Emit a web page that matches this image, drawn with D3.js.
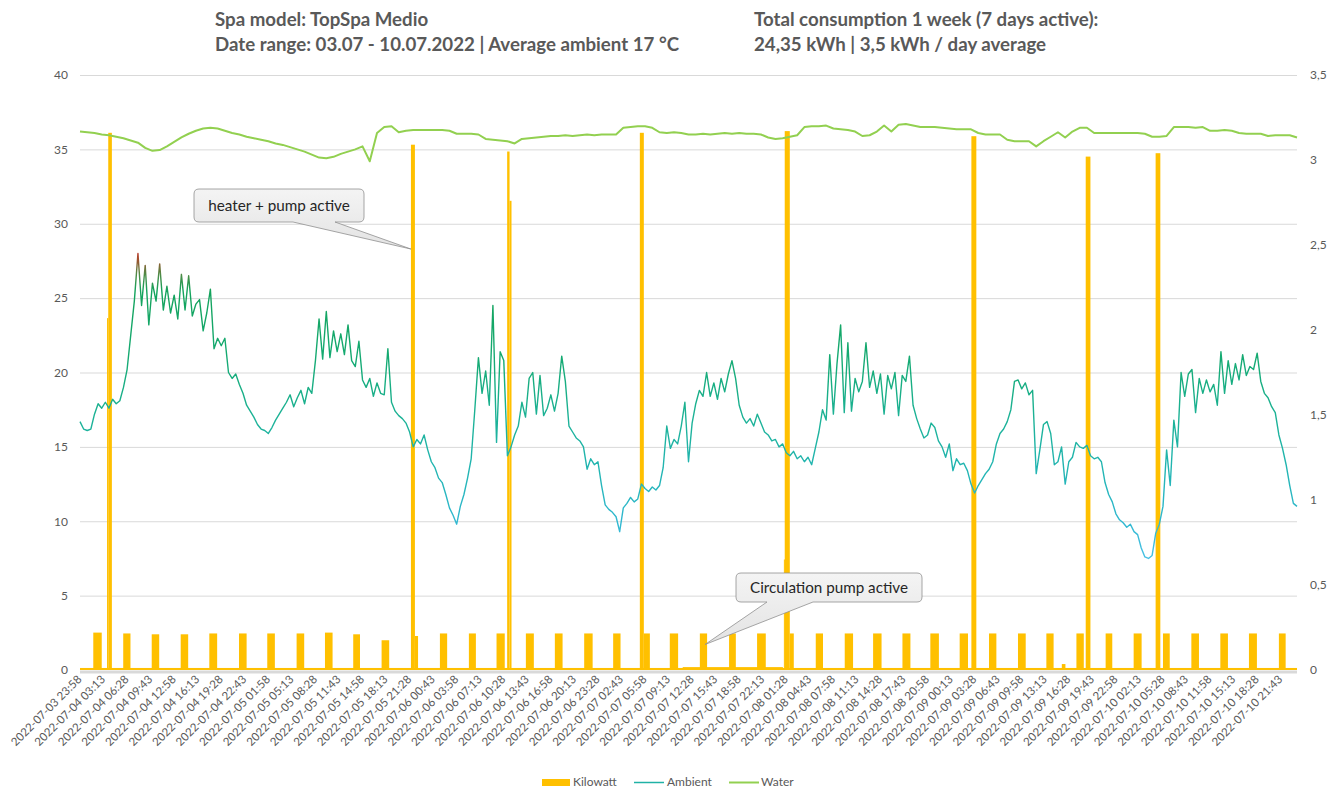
<!DOCTYPE html>
<html><head><meta charset="utf-8">
<script src="https://cdn.jsdelivr.net/npm/d3@7"></script>
<style>
body{margin:0;background:#fff;}
svg{display:block;font-family:Lato,'Open Sans',sans-serif;}
</style></head><body>
<svg id="chart" width="1329" height="789"></svg>
<script>
// ---------------- DATA ----------------
const titleLeft = ["Spa model: TopSpa Medio", "Date range: 03.07 - 10.07.2022 | Average ambient 17 °C"];
const titleRight = ["Total consumption 1 week (7 days active):", "24,35 kWh | 3,5 kWh / day average"];
const startTime = "2022-07-03 23:58";
const endTime = "2022-07-10 23:58";
const tickLabels = [
"2022-07-03 23:58",
"2022-07-04 03:13","2022-07-04 06:28","2022-07-04 09:43","2022-07-04 12:58","2022-07-04 16:13","2022-07-04 19:28","2022-07-04 22:43",
"2022-07-05 01:58","2022-07-05 05:13","2022-07-05 08:28","2022-07-05 11:43","2022-07-05 14:58","2022-07-05 18:13","2022-07-05 21:28",
"2022-07-06 00:43","2022-07-06 03:58","2022-07-06 07:13","2022-07-06 10:28","2022-07-06 13:43","2022-07-06 16:58","2022-07-06 20:13","2022-07-06 23:28",
"2022-07-07 02:43","2022-07-07 05:58","2022-07-07 09:13","2022-07-07 12:28","2022-07-07 15:43","2022-07-07 18:58","2022-07-07 22:13",
"2022-07-08 01:28","2022-07-08 04:43","2022-07-08 07:58","2022-07-08 11:13","2022-07-08 14:28","2022-07-08 17:43","2022-07-08 20:58",
"2022-07-09 00:13","2022-07-09 03:28","2022-07-09 06:43","2022-07-09 09:58","2022-07-09 13:13","2022-07-09 16:28","2022-07-09 19:43","2022-07-09 22:58",
"2022-07-10 02:13","2022-07-10 05:28","2022-07-10 08:43","2022-07-10 11:58","2022-07-10 15:13","2022-07-10 18:28","2022-07-10 21:43"
];
const leftTicks = [0,5,10,15,20,25,30,35,40];
const rightTicks = [0,0.5,1,1.5,2,2.5,3,3.5];

// Ambient temperature (°C), one reading every 30 min from startTime
const ambientStepMin = 30;
const ambient = [
16.7,16.2,16.1,16.2,17.2,17.9,17.6,18.0,17.6,18.2,17.9,18.1,
19.0,20.2,22.5,24.8,28.0,24.5,27.2,23.2,26.0,24.8,27.3,24.2,
25.8,24.0,25.2,23.6,26.6,24.2,26.5,23.8,24.6,24.9,22.8,24.0,
25.6,21.6,22.3,21.8,22.3,20.0,19.6,19.9,19.2,18.6,17.8,17.4,
17.0,16.5,16.2,16.1,15.9,16.3,16.8,17.2,17.6,18.0,18.5,17.7,
18.3,18.8,17.9,19.0,18.6,20.8,23.6,20.9,24.1,21.0,22.8,21.4,
22.6,21.2,23.2,20.8,20.4,22.1,19.5,19.0,19.6,18.4,19.3,18.6,
18.5,21.6,18.0,17.4,17.1,16.9,16.6,16.0,15.0,15.5,15.2,15.8,
14.8,14.0,13.6,12.9,12.6,11.8,10.9,10.4,9.8,11.0,11.8,12.9,
14.2,17.5,21.0,18.6,20.1,17.8,24.5,15.3,21.4,20.8,14.4,15.0,
15.8,16.4,18.0,17.0,19.6,20.0,17.2,19.8,17.1,17.6,18.5,17.4,
18.6,21.1,19.4,16.4,16.0,15.6,15.4,15.0,13.5,14.2,13.8,14.0,
12.4,11.1,10.8,10.6,10.3,9.3,10.9,11.2,11.6,11.3,11.5,12.5,
12.2,12.0,12.3,12.1,12.4,13.6,16.4,14.9,15.5,15.2,16.4,18.0,
14.0,16.6,17.9,18.8,18.4,20.0,18.4,19.3,18.2,19.6,18.7,19.9,
20.8,19.6,17.8,17.0,16.6,16.9,16.4,17.2,16.6,16.0,15.8,15.4,
15.5,15.0,15.2,14.6,14.4,14.7,14.2,14.4,14.0,14.3,13.8,14.9,
16.0,17.5,16.8,21.2,17.2,20.6,23.2,17.3,22.0,17.4,19.6,18.7,
19.4,22.0,19.0,20.1,18.6,19.9,17.2,19.8,18.9,20.0,17.1,19.8,
19.4,21.1,17.8,16.9,16.2,15.6,15.8,16.6,16.3,15.4,15.0,14.3,
15.2,13.4,14.2,13.8,13.9,13.4,12.5,11.9,12.4,12.8,13.2,13.5,
14.0,15.2,15.9,16.2,16.7,17.5,19.4,19.5,18.9,19.3,18.5,18.8,
13.2,14.8,16.5,16.7,15.9,13.8,14.0,15.0,12.5,14.0,14.3,15.3,
15.0,14.9,15.1,14.4,14.2,14.3,14.0,12.6,11.8,11.3,10.5,10.1,
9.9,9.6,9.8,9.3,9.1,8.2,7.6,7.5,7.7,9.2,9.8,11.0,
14.8,12.4,16.8,15.0,20.0,18.4,19.9,20.2,17.3,19.6,18.6,19.5,
18.7,19.2,17.8,21.4,18.6,20.8,19.2,20.6,19.5,21.2,19.8,20.4,
20.2,21.3,19.4,18.6,18.3,17.7,17.3,15.8,14.9,13.8,12.4,11.2,11.0
];

// Water temperature (°C), one reading every 60 min from startTime
const waterStepMin = 60;
const water = [
36.2,36.15,36.1,36.0,35.95,35.85,35.75,35.6,35.45,35.1,34.9,34.95,
35.2,35.5,35.8,36.05,36.25,36.4,36.45,36.4,36.25,36.1,36.0,35.85,
35.75,35.65,35.55,35.4,35.3,35.15,35.0,34.85,34.65,34.45,34.4,34.5,
34.7,34.85,35.0,35.2,34.2,36.1,36.5,36.55,36.15,36.25,36.3,36.3,
36.3,36.3,36.3,36.25,36.05,36.05,36.05,36.0,35.7,35.65,35.6,35.55,
35.4,35.7,35.75,35.8,35.85,35.9,35.9,35.95,35.9,35.95,36.0,35.95,
36.0,36.0,36.0,36.45,36.5,36.55,36.55,36.45,36.15,36.1,36.15,36.1,
36.0,36.0,36.05,36.0,36.05,36.1,36.05,36.1,36.05,36.05,36.0,35.8,
35.7,35.75,35.85,35.95,36.5,36.55,36.55,36.6,36.4,36.35,36.3,36.2,
35.9,35.95,36.2,36.6,36.2,36.65,36.7,36.6,36.5,36.5,36.5,36.45,
36.4,36.35,36.35,36.35,36.1,36.0,36.0,36.0,35.65,35.55,35.55,35.55,
35.2,35.55,35.85,36.15,35.8,36.2,36.45,36.45,36.1,36.1,36.1,36.1,
36.1,36.1,36.1,36.05,35.85,35.85,35.9,36.5,36.5,36.5,36.45,36.5,
36.25,36.25,36.3,36.25,36.1,36.05,36.05,36.05,35.9,35.95,35.95,35.95,35.8
];

// Kilowatt: [start, duration (min), kW]
const standbyRuns = [
["2022-07-03 23:58",10080,0.012],
["2022-07-07 11:10",830,0.017],
["2022-07-09 15:30",30,0.035]
];
const pumpRuns = [
["2022-07-04 01:48",70,0.22],["2022-07-04 05:56",60,0.215],["2022-07-04 09:52",62,0.21],["2022-07-04 13:52",62,0.21],
["2022-07-04 17:49",65,0.215],["2022-07-04 21:55",63,0.215],["2022-07-05 01:49",63,0.215],["2022-07-05 05:52",63,0.215],
["2022-07-05 09:47",63,0.22],["2022-07-05 13:41",56,0.21],["2022-07-05 17:36",63,0.175],["2022-07-05 22:12",26,0.2],
["2022-07-06 01:39",60,0.215],["2022-07-06 05:39",58,0.215],["2022-07-06 09:28",68,0.215],["2022-07-06 13:31",66,0.215],
["2022-07-06 17:31",64,0.215],["2022-07-06 21:34",70,0.215],["2022-07-07 01:34",61,0.215],["2022-07-07 05:48",50,0.215],
["2022-07-07 09:23",69,0.215],["2022-07-07 13:32",60,0.215],["2022-07-07 17:34",56,0.215],["2022-07-07 21:26",72,0.215],
["2022-07-08 01:57",33,0.215],["2022-07-08 05:32",60,0.215],["2022-07-08 09:32",69,0.215],["2022-07-08 13:27",70,0.215],
["2022-07-08 17:30",66,0.215],["2022-07-08 21:21",71,0.215],["2022-07-09 01:24",69,0.215],["2022-07-09 05:27",61,0.215],
["2022-07-09 09:27",64,0.215],["2022-07-09 13:22",60,0.215],["2022-07-09 17:31",61,0.215],["2022-07-09 21:33",55,0.215],
["2022-07-10 01:25",66,0.215],["2022-07-10 05:28",56,0.215],["2022-07-10 09:23",63,0.215],["2022-07-10 13:23",63,0.215],
["2022-07-10 17:20",66,0.215],["2022-07-10 21:28",56,0.215]
];
const heaterRuns = [
["2022-07-04 03:42",10,2.07],["2022-07-04 03:52",30,3.16],
["2022-07-05 21:39",33,3.09],
["2022-07-06 10:56",20,3.05],["2022-07-06 11:16",16,2.76],
["2022-07-07 05:15",33,3.16],
["2022-07-08 01:08",7,0.65],["2022-07-08 01:15",42,3.17],
["2022-07-09 03:01",41,3.14],
["2022-07-09 18:48",39,3.02],
["2022-07-10 04:27",39,3.04]
];
const legendItems = ["Kilowatt","Ambient","Water"];
const annotationTexts = ["heater + pump active","Circulation pump active"];
const annotationTargets = [["2022-07-05 21:39",28.3,"left"],["2022-07-07 14:15",0.15,"right"]];

// ---------------- CHART ----------------
const parse = d3.timeParse("%Y-%m-%d %H:%M");
const t0 = parse(startTime), t1 = parse(endTime);
const svg = d3.select("#chart");
const L = 80, R = 1297, T = 75, B = 670;
const x = d3.scaleTime().domain([t0,t1]).range([L,R]);
const yL = d3.scaleLinear().domain([0,40]).range([B,T]);
const yR = d3.scaleLinear().domain([0,3.5]).range([B,T]);
const txt = "#595959";

// gridlines
svg.append("g").selectAll("line").data(leftTicks.filter(d=>d>0)).join("line")
  .attr("x1",L).attr("x2",R).attr("y1",d=>yL(d)+0.5).attr("y2",d=>yL(d)+0.5)
  .attr("stroke","#D9D9D9").attr("stroke-width",1);

// kilowatt bars
const runs = standbyRuns.concat(pumpRuns, heaterRuns).map(r=>{
  const s = parse(r[0]); return {s, e:d3.timeMinute.offset(s,r[1]), kw:r[2]};
});
svg.append("g").selectAll("rect").data(runs).join("rect")
  .attr("x",d=>x(d.s)).attr("width",d=>Math.max(1,x(d.e)-x(d.s)))
  .attr("y",d=>yR(d.kw)).attr("height",d=>yR(0)-yR(d.kw))
  .attr("fill","#FFC000");

// axis line
svg.append("line").attr("x1",L).attr("x2",R).attr("y1",B+2).attr("y2",B+2)
  .attr("stroke","#D9D9D9").attr("stroke-width",3);

// ambient gradient
const defs = svg.append("defs");
const grad = defs.append("linearGradient").attr("id","ambGrad").attr("gradientUnits","userSpaceOnUse")
  .attr("x1",0).attr("x2",0).attr("y1",yL(28.5)).attr("y2",yL(7));
const gstops = [[28.5,"#D01E24"],[27.6,"#A0502C"],[26.6,"#4F8A45"],[25.5,"#14A35C"],[21,"#15AA72"],[17,"#1CB296"],[13.5,"#22B5B2"],[10,"#30B8D0"],[7,"#4CC2E8"]];
grad.selectAll("stop").data(gstops).join("stop")
  .attr("offset",d=>(yL(d[0])-yL(28.5))/(yL(7)-yL(28.5)))
  .attr("stop-color",d=>d[1]);

const ambLine = d3.line().x((d,i)=>x(d3.timeMinute.offset(t0,i*ambientStepMin))).y(d=>yL(d));
const watLine = d3.line().x((d,i)=>x(d3.timeMinute.offset(t0,i*waterStepMin))).y(d=>yL(d));
svg.append("path").datum(water).attr("d",watLine).attr("fill","none")
  .attr("stroke","#92D050").attr("stroke-width",2).attr("stroke-linejoin","round");
svg.append("path").datum(ambient).attr("d",ambLine).attr("fill","none")
  .attr("stroke","url(#ambGrad)").attr("stroke-width",1.4).attr("stroke-linejoin","round");

// axes
const gl = svg.append("g").attr("transform",`translate(${L},0)`)
  .call(d3.axisLeft(yL).tickValues(leftTicks).tickSize(0).tickPadding(12));
const gr = svg.append("g").attr("transform",`translate(${R},0)`)
  .call(d3.axisRight(yR).tickValues(rightTicks).tickSize(0).tickPadding(13)
  .tickFormat(d=>String(d).replace(".",",")));
[gl,gr].forEach(g=>{g.select(".domain").remove();
  g.selectAll("text").attr("fill",txt).attr("font-size",12).attr("font-family","Lato");});
const gb = svg.append("g").attr("transform",`translate(0,${B})`)
  .call(d3.axisBottom(x).tickValues(tickLabels.map(parse)).tickSize(0)
  .tickFormat(d3.timeFormat("%Y-%m-%d %H:%M")));
gb.select(".domain").remove();
gb.selectAll("text").attr("fill",txt).attr("font-size",11.5).attr("font-family","Lato")
  .attr("text-anchor","end").attr("y",0).attr("dy",0)
  .attr("transform","translate(2,10) rotate(-45)");

// titles (one common font size, fitted to the reference block widths)
const titleWidths = [[226,482],[294,307]];
const tEls = [];
[[titleLeft,215],[titleRight,754]].forEach((blk,bi)=>{
  blk[0].forEach((s,li)=>{
    const t = svg.append("text").attr("x",blk[1]).attr("y",26+li*25).attr("fill",txt)
      .attr("font-weight",700).attr("font-size",18).text(s);
    tEls.push([t,titleWidths[bi][li]]);
  });
});
const ratio = d3.mean(tEls,d=>d[1]/d[0].node().getComputedTextLength());
tEls.forEach(d=>d[0].attr("font-size",18*ratio));

function fit(sel,w){const m=sel.node().getComputedTextLength();sel.attr("font-size",parseFloat(sel.attr("font-size"))*w/m);}

// annotations (callouts)
const boxes = [[194,189,364,222,293,335],[736,573,922,602,767,813]];
const cg = defs.append("linearGradient").attr("id","callGrad").attr("x1",0).attr("x2",0).attr("y1",0).attr("y2",1);
cg.append("stop").attr("offset",0).attr("stop-color","#F4F4F4");
cg.append("stop").attr("offset",1).attr("stop-color","#E3E3E3");
const textW = [141.6,158];
annotationTexts.forEach((s,i)=>{
  const [x0,y0,x1,y1,b1,b2]=boxes[i]; const r=5;
  const tg = annotationTargets[i];
  const tx = x(parse(tg[0])), ty = tg[2]==="left"?yL(tg[1]):yR(tg[1]);
  const p = `M${x0+r},${y0}H${x1-r}Q${x1},${y0} ${x1},${y0+r}V${y1-r}Q${x1},${y1} ${x1-r},${y1}H${b2}L${tx},${ty}L${b1},${y1}H${x0+r}Q${x0},${y1} ${x0},${y1-r}V${y0+r}Q${x0},${y0} ${x0+r},${y0}Z`;
  svg.append("path").attr("d",p).attr("fill","url(#callGrad)").attr("stroke","#8F8F8F").attr("stroke-width",0.8);
  const t = svg.append("text").attr("x",(x0+x1)/2).attr("y",(y0+y1)/2+5).attr("text-anchor","middle")
    .attr("fill","#262626").attr("font-size",15).text(s);
  fit(t,textW[i]);
});

// legend
const lg = svg.append("g").attr("font-size",12).attr("fill",txt);
lg.append("rect").attr("x",542).attr("y",779).attr("width",28).attr("height",7).attr("fill","#FFC000");
lg.append("text").attr("x",573).attr("y",786).text(legendItems[0]);
lg.append("line").attr("x1",634).attr("x2",664).attr("y1",782.5).attr("y2",782.5).attr("stroke","#20B2A6").attr("stroke-width",1.5);
lg.append("text").attr("x",667).attr("y",786).text(legendItems[1]);
lg.append("line").attr("x1",729).attr("x2",759).attr("y1",782.5).attr("y2",782.5).attr("stroke","#92D050").attr("stroke-width",2);
lg.append("text").attr("x",761).attr("y",786).text(legendItems[2]);
</script></body></html>
